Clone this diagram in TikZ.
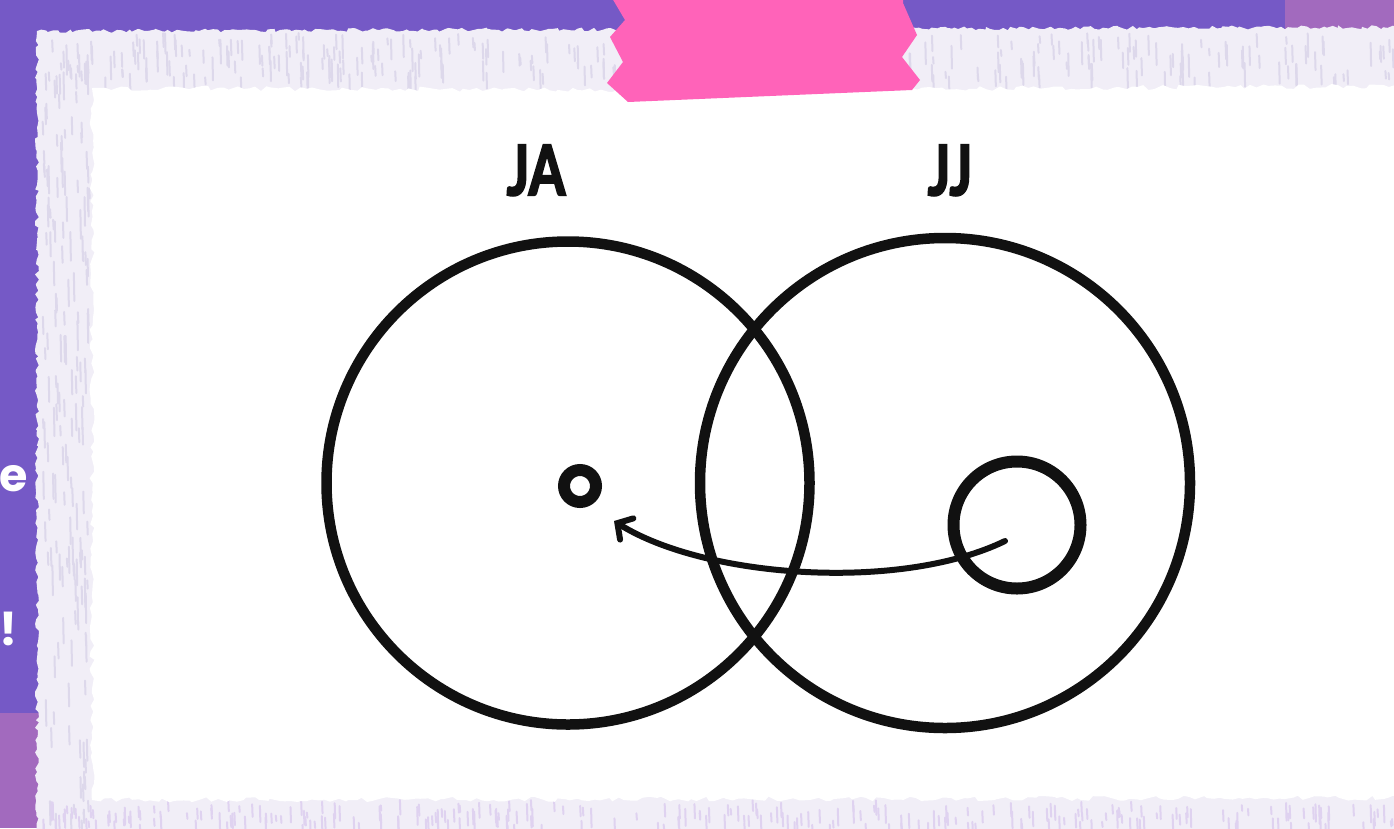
\documentclass[tikz,border=0pt]{standalone}
\usepackage{fontspec}
\setmainfont{Liberation Sans}
\newfontfamily\labfont{Lato}[BoldFeatures={FakeBold=3.5}]
\newfontfamily\handfont{Poppins}
\usetikzlibrary{arrows.meta,decorations.pathmorphing}
\definecolor{bgpurple}{HTML}{7559C6}
\definecolor{bglilac}{HTML}{A26ABE}
\definecolor{tapepink}{HTML}{FF63B9}
\definecolor{paperband}{HTML}{F1EEF7}
\definecolor{streakA}{HTML}{DDD8EB}
\definecolor{streakB}{HTML}{DFD2F0}
\definecolor{ink}{HTML}{111111}
\begin{document}
\begin{tikzpicture}[x=1pt,y=-1pt,
  ring/.style={draw=ink,line width=#1,circle,inner sep=0pt},
  setlabel/.style={anchor=base,text=ink,inner sep=0pt,font=\labfont\bfseries\fontsize{69}{69}\selectfont},
  edgetext/.style={text=white,inner sep=0pt,font=\handfont\bfseries\fontsize{46}{46}\selectfont},
  arrowline/.style={draw=ink,line width=6pt,line cap=round,-{Straight Barb[length=11pt,width=25pt,line cap=round]}},
  rough/.style={decorate,decoration={random steps,segment length=4pt,amplitude=2pt}},
  softrough/.style={decorate,decoration={random steps,segment length=6pt,amplitude=2.5pt}}
]
\useasboundingbox (0,0) rectangle (1394,828);
% background
\fill[bgpurple] (0,0) rectangle (1394,828);
\fill[bglilac] (1285,0) rectangle (1394,40);
\fill[bglilac] (0,713) rectangle (50,828);
% text on the purple margin
\node[edgetext,anchor=base east] (e) at (28,491) {e};
\node[edgetext,anchor=base east] (ex) at (18,645) {!};
% paper
\pgfmathsetseed{7}
\fill[paperband,rough] (37,860) -- (37,31) -- (700,29) -- (1420,27) -- (1420,860) -- cycle;
\foreach \i in {1,...,160}{
  \pgfmathsetmacro\xx{42+rnd*48}
  \pgfmathsetmacro\yy{35+rnd*790}
  \pgfmathsetmacro\ll{8+rnd*22}
  \draw[streakA,line width=2pt,line cap=round] (\xx,\yy) -- ++(0.5,\ll);
}
\foreach \i in {1,...,320}{
  \pgfmathsetmacro\xx{42+rnd*1352}
  \pgfmathsetmacro\yy{33+rnd*45}
  \pgfmathsetmacro\ll{6+rnd*18}
  \draw[streakA,line width=2pt,line cap=round] (\xx,\yy) -- ++(0.5,\ll);
}
\foreach \i in {1,...,260}{
  \pgfmathsetmacro\xx{42+rnd*1352}
  \pgfmathsetmacro\yy{800+rnd*25}
  \pgfmathsetmacro\ll{5+rnd*14}
  \draw[streakB,line width=2pt,line cap=round] (\xx,\yy) -- ++(0.5,\ll);
}
\fill[white,softrough] (92,800) -- (92,88) -- (700,90) -- (1400,86) -- (1400,798) -- cycle;
% tape
\fill[tapepink] (612,-2) -- (625,20) -- (610,37) -- (623,62) -- (607,83) -- (628,102)
  -- (912,90) -- (920,80) -- (902,57) -- (917,35) -- (903,3) -- (903,-2) -- cycle;
% set labels
\node[setlabel] (ja) at (536,195) {\scalebox{0.76}[1]{JA}};
\node[setlabel] (jj) at (950,195) {\scalebox{0.76}[1]{JJ}};
% circles
\node[ring=10.5pt,minimum size=483pt] (ca) at (568,483) {};
\node[ring=10.5pt,minimum size=490pt] (cb) at (945,483) {};
\node[ring=12pt,minimum size=32pt] (dot) at (580,486) {};
\node[ring=12pt,minimum size=127pt] (sm) at (1017,525) {};
% connector
\coordinate (from) at (1005,541);
\coordinate (to) at (614,521);
\draw[arrowline] (from) .. controls (900,592) and (705,578) .. (to);
\end{tikzpicture}
\end{document}
